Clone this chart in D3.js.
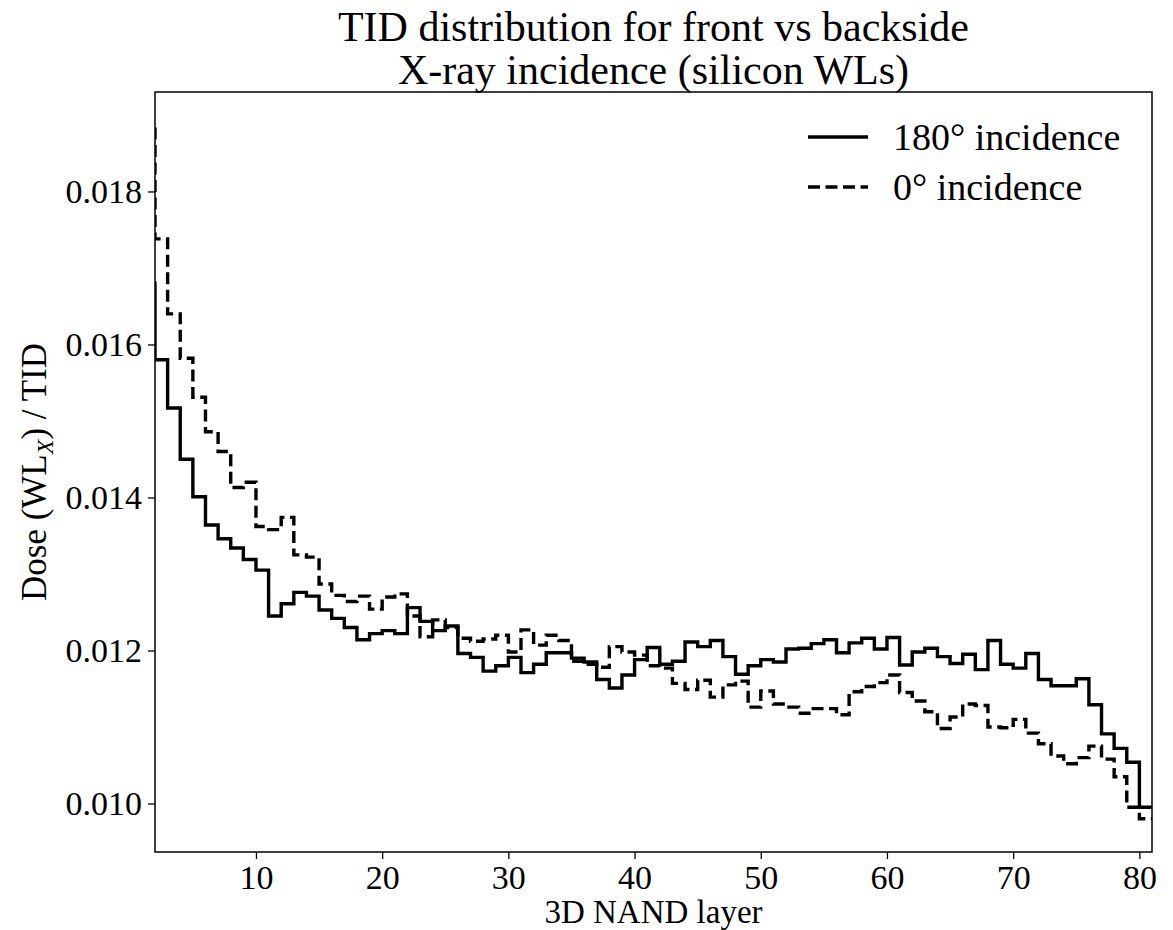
<!DOCTYPE html>
<html>
<head>
<meta charset="utf-8">
<script src="https://cdn.jsdelivr.net/npm/d3@7"></script>
<style>
  body { margin: 0; background: #fff; }
  svg { display: block; }
  text { font-family: "Liberation Serif", "Times New Roman", serif; fill: #000; }
</style>
</head>
<body>
<svg id="chart" width="1173" height="930"></svg>
<script>
// Relative dose per word-line layer; layer k occupies the bin [k, k+1].
const layers = d3.range(1, 81);

// 180 degree (backside) incidence
const dose180 = [
  0.01680, 0.01580, 0.01517, 0.01450, 0.01401, 0.01364, 0.01346, 0.01334, 0.01319, 0.01305,
  0.01245, 0.01261, 0.01276, 0.01271, 0.01253, 0.01242, 0.01230, 0.01214, 0.01222, 0.01226,
  0.01222, 0.01256, 0.01238, 0.01226, 0.01232, 0.01196, 0.01191, 0.01173, 0.01180, 0.01191,
  0.01171, 0.01182, 0.01197, 0.01197, 0.01190, 0.01185, 0.01162, 0.01151, 0.01168, 0.01188,
  0.01204, 0.01182, 0.01186, 0.01211, 0.01205, 0.01213, 0.01192, 0.01169, 0.01180, 0.01188,
  0.01185, 0.01202, 0.01203, 0.01209, 0.01214, 0.01197, 0.01210, 0.01216, 0.01202, 0.01217,
  0.01181, 0.01198, 0.01203, 0.01192, 0.01183, 0.01195, 0.01175, 0.01213, 0.01182, 0.01177,
  0.01196, 0.01162, 0.01154, 0.01154, 0.01163, 0.01129, 0.01091, 0.01072, 0.01054, 0.00995
];

// 0 degree (front side) incidence
const dose0 = [
  0.01890, 0.01738, 0.01640, 0.01582, 0.01531, 0.01486, 0.01460, 0.01413, 0.01420, 0.01362,
  0.01358, 0.01374, 0.01325, 0.01322, 0.01287, 0.01272, 0.01264, 0.01271, 0.01254, 0.01270,
  0.01274, 0.01245, 0.01218, 0.01240, 0.01230, 0.01216, 0.01212, 0.01215, 0.01220, 0.01198,
  0.01227, 0.01207, 0.01220, 0.01213, 0.01186, 0.01182, 0.01178, 0.01205, 0.01198, 0.01194,
  0.01180, 0.01177, 0.01157, 0.01149, 0.01161, 0.01139, 0.01155, 0.01160, 0.01126, 0.01147,
  0.01130, 0.01126, 0.01118, 0.01124, 0.01124, 0.01116, 0.01146, 0.01153, 0.01158, 0.01168,
  0.01145, 0.01134, 0.01120, 0.01098, 0.01113, 0.01130, 0.01128, 0.01100, 0.01099, 0.01110,
  0.01092, 0.01078, 0.01062, 0.01052, 0.01060, 0.01075, 0.01058, 0.01035, 0.00995, 0.00980
];

const xTicks = [10, 20, 30, 40, 50, 60, 70, 80];
const yTicks = [0.010, 0.012, 0.014, 0.016, 0.018];
const seriesNames = ["180\u00b0 incidence", "0\u00b0 incidence"];

const svg = d3.select("#chart");
const plot = { left: 155, right: 1152, top: 92, bottom: 852 };

const x = d3.scaleLinear().domain([2, 81]).range([plot.left, plot.right]);
const y = d3.scaleLinear().domain([0.009366, 0.0193]).range([plot.bottom, plot.top]);

svg.append("defs").append("clipPath").attr("id", "plot-clip")
  .append("rect")
  .attr("x", plot.left).attr("y", plot.top)
  .attr("width", plot.right - plot.left).attr("height", plot.bottom - plot.top);

// step outline: each value holds across its layer bin, closed at the last bin edge
function stepPoints(values) {
  const pts = layers.map((k, i) => [k, values[i]]);
  pts.push([layers[layers.length - 1] + 1, values[values.length - 1]]);
  return pts;
}
const line = d3.line()
  .x(d => x(d[0]))
  .y(d => y(d[1]))
  .curve(d3.curveStepAfter);

const g = svg.append("g").attr("clip-path", "url(#plot-clip)");
g.append("path")
  .attr("d", line(stepPoints(dose180)))
  .attr("fill", "none").attr("stroke", "#000").attr("stroke-width", 3.4)
  .attr("stroke-linejoin", "miter");
g.append("path")
  .attr("d", line(stepPoints(dose0)))
  .attr("fill", "none").attr("stroke", "#000").attr("stroke-width", 3.4)
  .attr("stroke-dasharray", "12,5.5");

// axes
const xAxis = d3.axisBottom(x).tickValues(xTicks).tickSize(7).tickPadding(6)
  .tickFormat(d3.format("d"));
const yAxis = d3.axisLeft(y).tickValues(yTicks).tickSize(7).tickPadding(6)
  .tickFormat(d3.format(".3f"));

const gx = svg.append("g").attr("transform", `translate(0,${plot.bottom})`).call(xAxis);
const gy = svg.append("g").attr("transform", `translate(${plot.left},0)`).call(yAxis);
[gx, gy].forEach(a => {
  a.select(".domain").remove();
  a.selectAll(".tick line").attr("stroke", "#000").attr("stroke-width", 1.3);
  a.selectAll(".tick text").attr("font-size", 34)
    .style("font-family", '"Liberation Serif", "Times New Roman", serif');
});

// frame
svg.append("rect")
  .attr("x", plot.left).attr("y", plot.top)
  .attr("width", plot.right - plot.left).attr("height", plot.bottom - plot.top)
  .attr("fill", "none").attr("stroke", "#000").attr("stroke-width", 1.5);

// title
const title = svg.append("text").attr("text-anchor", "middle").attr("font-size", 42);
title.append("tspan").attr("x", (plot.left + plot.right) / 2).attr("y", 41)
  .text("TID distribution for front vs backside");
title.append("tspan").attr("x", (plot.left + plot.right) / 2).attr("y", 84)
  .text("X-ray incidence (silicon WLs)");

// axis labels
svg.append("text").attr("text-anchor", "middle").attr("font-size", 33)
  .attr("x", (plot.left + plot.right) / 2).attr("y", 923)
  .text("3D NAND layer");

const yl = svg.append("text").attr("text-anchor", "middle").attr("font-size", 35)
  .attr("transform", `translate(46,${(plot.top + plot.bottom) / 2}) rotate(-90)`);
yl.append("tspan").text("Dose (WL");
yl.append("tspan").attr("font-size", 24).attr("font-style", "italic").attr("dy", 7).text("X");
yl.append("tspan").attr("dy", -7).text(") / TID");

// legend
const legend = svg.append("g");
seriesNames.forEach((name, i) => {
  const ly = 137 + i * 50;
  legend.append("line")
    .attr("x1", 808).attr("x2", 868).attr("y1", ly).attr("y2", ly)
    .attr("stroke", "#000").attr("stroke-width", 3.4)
    .attr("stroke-dasharray", i === 1 ? "12,5.5" : null);
  legend.append("text").attr("x", 893).attr("y", ly).attr("dy", "0.35em")
    .attr("font-size", 38).text(name);
});
</script>
</body>
</html>
